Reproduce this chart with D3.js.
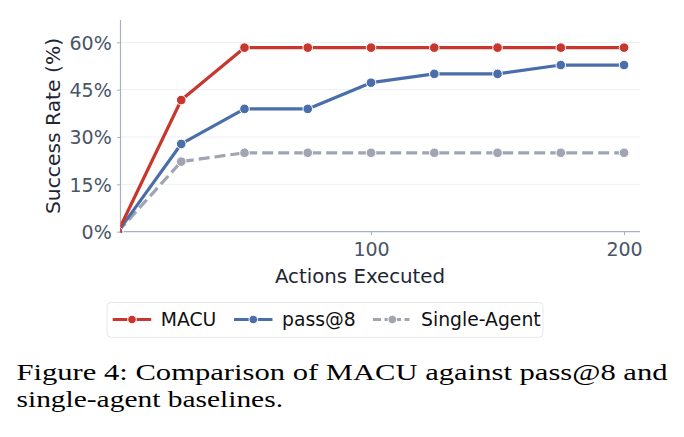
<!DOCTYPE html>
<html><head><meta charset="utf-8">
<script src="https://cdn.jsdelivr.net/npm/d3@7"></script>
<style>html,body{margin:0;padding:0;background:#fff;}svg{display:block;}</style>
</head><body>
<svg id="c" width="684" height="437"></svg>
<script>
const actions = [0, 25, 50, 75, 100, 125, 150, 175, 200];
const macu = [0, 41.7, 58.3, 58.3, 58.3, 58.3, 58.3, 58.3, 58.3];
const pass8 = [0, 27.8, 38.9, 38.9, 47.2, 50.0, 50.0, 52.8, 52.8];
const single = [0, 22.2, 25.0, 25.0, 25.0, 25.0, 25.0, 25.0, 25.0];
const seriesNames = ["MACU", "pass@8", "Single-Agent"];
const xTicks = [100, 200];
const yTicks = [0, 15, 30, 45, 60];
const captionLines = ["Figure 4: Comparison of MACU against pass@8 and", "single-agent baselines."];

const colors = ["#c8372d", "#4a6ea9", "#a0a5b1"];
const dashes = [null, null, "11,5"];
const seriesVals = [macu, pass8, single];

const svg = d3.select("#c");
const L = 120.5, R = 640, T = 20, B = 231.7;
const x = d3.scaleLinear().domain([1, 206.3]).range([L, R]);
const y = d3.scaleLinear().domain([0, 60]).range([B, 42.3]);

// gridlines
svg.append("g").selectAll("line").data(yTicks.filter(d => d > 0)).join("line")
  .attr("x1", L).attr("x2", R).attr("y1", d => y(d)).attr("y2", d => y(d))
  .attr("stroke", "#eceff3").attr("stroke-width", 1);

// axes
const tickFont = "'DejaVu Sans', sans-serif";
const yAxis = svg.append("g").attr("transform", `translate(${L},0)`)
  .call(d3.axisLeft(y).tickValues(yTicks).tickFormat(d => d + "%").tickSize(3.5).tickPadding(5));
const xAxis = svg.append("g").attr("transform", `translate(0,${B})`)
  .call(d3.axisBottom(x).tickValues(xTicks).tickSize(3.5).tickPadding(5));
[yAxis, xAxis].forEach(g => {
  g.select(".domain").attr("stroke", "#a9b1bd").attr("stroke-width", 1.2);
  g.selectAll(".tick line").attr("stroke", "#a9b1bd");
  g.selectAll(".tick text").attr("fill", "#4a5568").attr("font-family", tickFont).attr("font-size", 19);
});
yAxis.selectAll(".tick text").attr("x", -8.8).attr("dy", "0.36em");
xAxis.selectAll(".tick text").attr("y", 24.3).attr("dy", 0);
yAxis.select(".domain").attr("d", `M0,${T}V${B}`);
xAxis.select(".domain").attr("d", `M${L - 1},0H${R}`);

// axis labels
svg.append("text").attr("x", 360).attr("y", 283.3).attr("text-anchor", "middle")
  .attr("font-family", tickFont).attr("font-size", 19.8).attr("fill", "#1f2633").text("Actions Executed");
svg.append("text").attr("transform", `translate(59.5,126) rotate(-90)`).attr("text-anchor", "middle")
  .attr("font-family", tickFont).attr("font-size", 20.3).attr("fill", "#1f2633").text("Success Rate (%)");

// clip
svg.append("clipPath").attr("id", "clip").append("rect")
  .attr("x", L).attr("y", 0).attr("width", R - L + 10).attr("height", B + 1);

const plot = svg.append("g").attr("clip-path", "url(#clip)");
const line = d3.line().x((d, i) => x(actions[i])).y(d => y(d));
[2, 1, 0].forEach(s => {
  const g = plot.append("g");
  g.append("path").datum(seriesVals[s]).attr("d", line).attr("fill", "none")
    .attr("stroke", colors[s]).attr("stroke-width", 3.2)
    .attr("stroke-dasharray", dashes[s]).attr("stroke-linejoin", "round");
  g.selectAll("circle").data(seriesVals[s]).join("circle")
    .attr("cx", (d, i) => x(actions[i])).attr("cy", d => y(d)).attr("r", 4.8)
    .attr("fill", colors[s]).attr("stroke", "#fff").attr("stroke-width", 1);
});

// legend
const lg = svg.append("g");
lg.append("rect").attr("x", 107).attr("y", 302.5).attr("width", 436).attr("height", 34.8)
  .attr("rx", 4).attr("fill", "#fff").attr("stroke", "#e6e8ec").attr("stroke-width", 1);
const legX = [112.7, 234, 373];
const ly = 319.5;
seriesNames.forEach((n, s) => {
  const g = lg.append("g");
  g.append("line").attr("x1", legX[s]).attr("x2", legX[s] + 38.5).attr("y1", ly).attr("y2", ly)
    .attr("stroke", colors[s]).attr("stroke-width", 3.2).attr("stroke-dasharray", s === 2 ? "8,3.5,5,3.5" : null);
  g.append("circle").attr("cx", legX[s] + 19.3).attr("cy", ly).attr("r", 4.3)
    .attr("fill", colors[s]).attr("stroke", "#fff").attr("stroke-width", 1);
  g.append("text").attr("x", legX[s] + 48).attr("y", 325.7)
    .attr("font-family", tickFont).attr("font-size", 18.8).attr("fill", "#111").text(n);
});

// caption
const capWidths = [651, 266.5];
const capY = [379.5, 406.5];
const cap = svg.append("g").attr("font-family", "'Liberation Serif', 'Times New Roman', serif")
  .attr("font-size", 24).attr("fill", "#000");
captionLines.forEach((t, i) => {
  cap.append("text").attr("x", 16.5).attr("y", capY[i])
    .attr("textLength", capWidths[i]).attr("lengthAdjust", "spacingAndGlyphs").text(t);
});
</script>
</body></html>
